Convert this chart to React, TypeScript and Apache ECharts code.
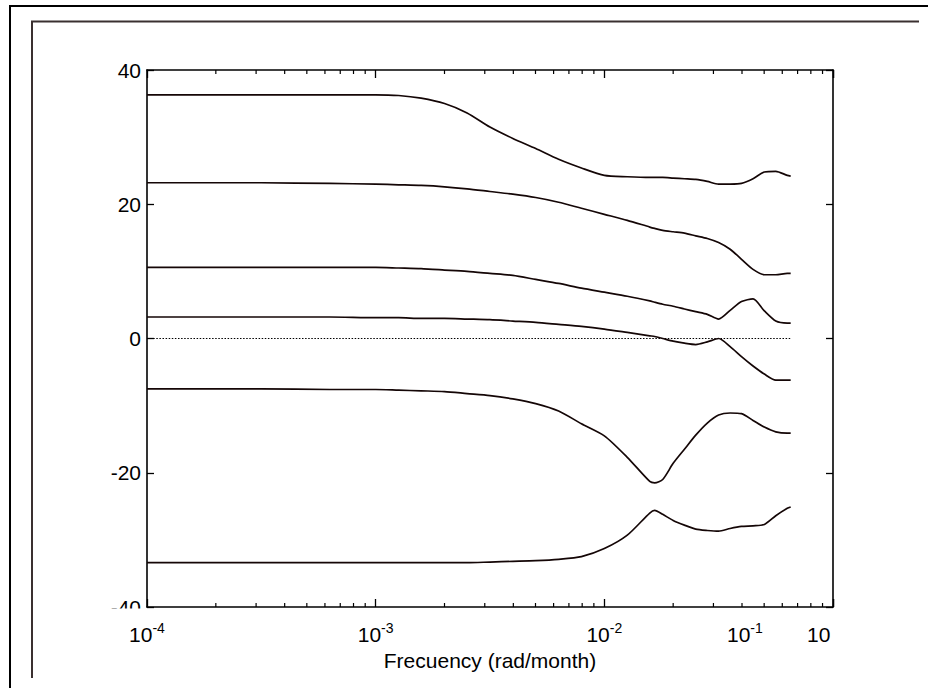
import React, { useEffect, useRef } from 'react';
import * as echarts from 'echarts';

// ---- data ----
const frequencies = [
  1e-4, 3.16e-4, 6.31e-4, 1e-3, 1.26e-3, 1.58e-3, 2e-3, 2.51e-3, 3.16e-3, 3.98e-3,
  5.01e-3, 6.31e-3, 7.94e-3, 1e-2, 1.26e-2, 1.58e-2, 1.66e-2, 1.8e-2, 2e-2, 2.24e-2,
  2.51e-2, 2.82e-2, 3.16e-2, 3.55e-2, 3.98e-2, 4.47e-2, 5.01e-2, 5.62e-2, 6.31e-2, 6.53e-2,
];
const curve1 = [36.3, 36.3, 36.3, 36.3, 36.2, 35.8, 35.0, 33.6, 31.5, 29.8, 28.3, 26.7, 25.4, 24.3, 24.1, 24.0, 24.0, 24.0, 23.9, 23.8, 23.7, 23.4, 23.0, 23.0, 23.1, 23.8, 24.8, 24.9, 24.3, 24.2];
const curve2 = [23.2, 23.2, 23.1, 23.0, 22.9, 22.8, 22.6, 22.3, 21.9, 21.5, 21.0, 20.3, 19.4, 18.5, 17.6, 16.6, 16.4, 16.1, 15.9, 15.7, 15.3, 14.9, 14.3, 13.3, 11.8, 10.3, 9.5, 9.5, 9.7, 9.7];
const curve3 = [10.6, 10.6, 10.6, 10.6, 10.5, 10.4, 10.2, 10.0, 9.7, 9.4, 8.8, 8.2, 7.5, 6.9, 6.3, 5.6, 5.4, 5.1, 4.8, 4.4, 4.0, 3.6, 2.9, 4.2, 5.5, 5.9, 4.1, 2.6, 2.3, 2.3];
const curve4 = [3.2, 3.2, 3.2, 3.1, 3.1, 3.0, 3.0, 2.9, 2.8, 2.6, 2.4, 2.1, 1.8, 1.4, 0.9, 0.4, 0.3, 0.0, -0.4, -0.7, -0.9, -0.5, 0.0, -1.2, -2.7, -4.1, -5.3, -6.2, -6.2, -6.2];
const curve5 = [-7.5, -7.5, -7.6, -7.6, -7.7, -7.8, -7.9, -8.2, -8.5, -9.0, -9.7, -10.8, -12.7, -14.5, -17.7, -21.3, -21.5, -21.0, -18.6, -16.5, -14.4, -12.6, -11.4, -11.1, -11.2, -12.2, -13.2, -13.9, -14.1, -14.1];
const curve6 = [-33.4, -33.4, -33.4, -33.4, -33.4, -33.4, -33.4, -33.4, -33.3, -33.2, -33.1, -32.9, -32.5, -31.3, -29.3, -26.0, -25.6, -26.2, -27.1, -27.8, -28.4, -28.6, -28.7, -28.3, -28.0, -27.9, -27.7, -26.4, -25.3, -25.1];
const curves = [curve1, curve2, curve3, curve4, curve5, curve6];

const zeroLine = [[1e-4, 0], [6.53e-2, 0]];
const xMin = 1e-4;
const xMax = 1e-1;
const yMin = -40;
const yMax = 40;
const yInterval = 20;
const minorTickFreqs = [
  2e-4, 3e-4, 4e-4, 5e-4, 6e-4, 7e-4, 8e-4, 9e-4,
  2e-3, 3e-3, 4e-3, 5e-3, 6e-3, 7e-3, 8e-3, 9e-3,
  2e-2, 3e-2, 4e-2, 5e-2, 6e-2, 7e-2, 8e-2, 9e-2,
];
const extraXLabels = [
  { base: '10', sup: '-1', left: 727 },
  { base: '10', sup: '', left: 807 },
];
const xAxisTitle = 'Frecuency (rad/month)';

const FONT = '"Liberation Sans", Arial, Helvetica, sans-serif';
const LABEL_MARGIN = 14;
const GRID = { left: 147, top: 70, width: 686, height: 537 };

const rich = {
  b: { fontSize: 21, fontFamily: FONT, color: '#000', lineHeight: 24, verticalAlign: 'bottom' },
  s: { fontSize: 14, fontFamily: FONT, color: '#000', lineHeight: 6, verticalAlign: 'top' },
};

export default function App() {
  const ref = useRef<HTMLDivElement>(null);
  useEffect(() => {
    if (!ref.current) return;
    const chart = echarts.init(ref.current, undefined, { renderer: 'svg' });
    const axisLine = { show: true, onZero: false, lineStyle: { color: '#000', width: 1.6 } };
    const xTick = { show: true, inside: true, length: 8, lineStyle: { color: '#000', width: 1.3 } };
    const yTick = { show: true, inside: true, length: 7, lineStyle: { color: '#000', width: 1.3 } };
    const option: any = {
      animation: false,
      backgroundColor: '#fff',
      grid: { ...GRID, show: false },
      xAxis: [
        {
          type: 'log', logBase: 10, min: xMin, max: xMax, position: 'bottom',
          axisLine, axisTick: xTick, splitLine: { show: false },
          axisLabel: {
            margin: LABEL_MARGIN,
            formatter: (v: number) => {
              const e = Math.round(Math.log10(v));
              if (e >= -1) return '';
              return `{b|10}{s|${e}}`;
            },
            rich,
          },
          name: xAxisTitle, nameLocation: 'middle', nameGap: 39,
          nameTextStyle: { fontSize: 21, fontFamily: FONT, color: '#000' },
        },
        {
          type: 'log', logBase: 10, min: xMin, max: xMax, position: 'top',
          axisLine, axisTick: xTick, splitLine: { show: false }, axisLabel: { show: false },
        },
      ],
      yAxis: [
        {
          type: 'value', min: yMin, max: yMax, interval: yInterval, position: 'left',
          axisLine, axisTick: yTick, splitLine: { show: false },
          axisLabel: { margin: 6, fontSize: 21, fontFamily: FONT, color: '#000' },
        },
        {
          type: 'value', min: yMin, max: yMax, interval: yInterval, position: 'right',
          axisLine, axisTick: yTick, splitLine: { show: false }, axisLabel: { show: false },
        },
      ],
      series: [
        {
          type: 'line', data: zeroLine, symbol: 'none', silent: true,
          lineStyle: { color: '#000', width: 1.1, type: [1.5, 1.6] },
        },
        ...curves.map((c) => ({
          type: 'line',
          data: frequencies.map((f, i) => [f, c[i]]),
          symbol: 'none', silent: true, smooth: 0.25,
          lineStyle: { color: '#140606', width: 1.7 },
        })),
        {
          type: 'custom', coordinateSystem: 'cartesian2d', silent: true, clip: false,
          data: minorTickFreqs.map((f) => [f, 0]),
          renderItem: (_p: any, api: any) => {
            const f = api.value(0);
            const b = api.coord([f, yMin]);
            const t = api.coord([f, yMax]);
            const st = { stroke: '#000', lineWidth: 1.2 };
            return {
              type: 'group',
              children: [
                { type: 'line', shape: { x1: b[0], y1: b[1], x2: b[0], y2: b[1] - 4 }, style: st },
                { type: 'line', shape: { x1: t[0], y1: t[1], x2: t[0], y2: t[1] + 4 }, style: st },
              ],
            };
          },
        },
      ],
      graphic: [
        { type: 'polyline', shape: { points: [[10, 688], [10, 6], [928, 6]] }, style: { stroke: '#000', lineWidth: 2, fill: 'none' } },
        { type: 'polyline', shape: { points: [[32, 678], [32, 21.5], [919, 21.5]] }, style: { stroke: '#3a3030', lineWidth: 2, fill: 'none' } },
        { type: 'rect', z: 100, shape: { x: 100, y: 608.5, width: 45, height: 11 }, style: { fill: '#fff' } },
        ...extraXLabels.map((l) => ({
          type: 'text', x: l.left, y: GRID.top + GRID.height + LABEL_MARGIN,
          style: { text: l.sup ? `{b|${l.base}}{s|${l.sup}}` : `{b|${l.base}}`, rich, align: 'left', verticalAlign: 'top' },
        })),
      ],
    };
    chart.setOption(option);
    return () => chart.dispose();
  }, []);
  return <div ref={ref} style={{ position: 'absolute', left: 0, top: 0, width: 928, height: 688 }} />;
}
